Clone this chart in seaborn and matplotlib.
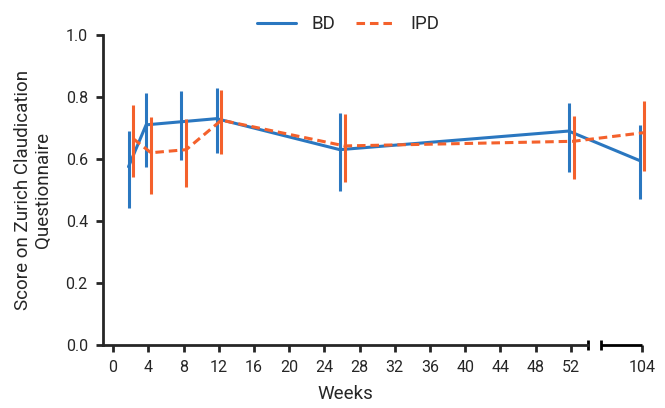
import matplotlib
matplotlib.use("Agg")
import matplotlib.pyplot as plt
import numpy as np
import pandas as pd
import seaborn as sns

# values
weeks = [2, 4, 8, 12, 26, 52, 104]
bd_mean = [0.575, 0.71, 0.72, 0.73, 0.63, 0.69, 0.595]
bd_low = [0.443, 0.573, 0.597, 0.618, 0.497, 0.559, 0.472]
bd_high = [0.691, 0.814, 0.82, 0.828, 0.747, 0.782, 0.708]
ipd_mean = [0.665, 0.62, 0.63, 0.725, 0.642, 0.657, 0.685]
ipd_low = [0.543, 0.487, 0.508, 0.616, 0.527, 0.534, 0.562]
ipd_high = [0.774, 0.734, 0.728, 0.822, 0.744, 0.74, 0.788]
xtick_weeks = [0, 4, 8, 12, 16, 20, 24, 28, 32, 36, 40, 44, 48, 52, 104]

BLUE = "#2a77c0"
ORANGE = "#f4612c"

# broken axis: everything past week 52 is squeezed
BREAK = 52
SQUEEZE = 8.05 / 52


def to_pos(w):
    w = np.asarray(w, dtype=float)
    return np.where(w <= BREAK, w, BREAK + (w - BREAK) * SQUEEZE)


sns.set_style("ticks")
plt.rcParams["font.family"] = ["Roboto", "DejaVu Sans"]
plt.rcParams["font.size"] = 11

fig = plt.figure(figsize=(6.65, 4.08), dpi=100)
ax = fig.add_axes([0.155, 0.1544, 0.81, 0.76])

series = [
    ("BD", bd_mean, bd_low, bd_high, BLUE, -0.25, ""),
    ("IPD", ipd_mean, ipd_low, ipd_high, ORANGE, 0.3, (2.8, 1.6)),
]
for name, mean, low, high, col, off, dash in series:
    df = pd.DataFrame({"x": to_pos(weeks) + off, "y": mean})
    sns.lineplot(
        data=df, x="x", y="y", ax=ax, color=col, lw=2.2, label=name,
        clip_on=False, sort=False,
    )
    if dash:
        ax.lines[-1].set_dashes(dash)
    ax.vlines(df["x"], low, high, color=col, lw=2.2, clip_on=False)

left = -1.14
ax.set_xlim(left, float(to_pos(104)))
ax.set_ylim(0, 1.0)
ax.set_yticks(np.arange(0, 1.01, 0.2))
ax.set_yticklabels([f"{v:.1f}" for v in np.arange(0, 1.01, 0.2)])
ax.set_xticks(to_pos(xtick_weeks))
ax.set_xticklabels([str(w) for w in xtick_weeks])
ax.tick_params(axis="both", length=5, width=2, pad=6, labelsize=11.5)

sns.despine(ax=ax)
for s in ["left", "bottom"]:
    ax.spines[s].set_linewidth(2)
ax.spines["bottom"].set_bounds(left, 54.0)
# second axis segment after the break, with end caps
ax.plot([55.4, float(to_pos(104))], [0, 0], color="black", lw=2,
        clip_on=False, solid_capstyle="butt")
ax.plot([54.0, 55.4], [0, 0], ls="none", marker="|", ms=7, mew=2,
        color="black", clip_on=False)

ax.set_xlabel("Weeks", fontsize=13.5)
ax.xaxis.set_label_coords(0.449, -0.13)
ax.set_ylabel("Score on Zurich Claudication\nQuestionnaire", fontsize=13.5,
              linespacing=1.15)
ax.yaxis.set_label_coords(-0.095, 0.5)

ax.legend(loc="center", bbox_to_anchor=(0.455, 1.035), ncol=2, frameon=False,
          fontsize=13.5, handlelength=2.1, handletextpad=0.8, columnspacing=1.1)

fig.savefig("out.png", dpi=100)
